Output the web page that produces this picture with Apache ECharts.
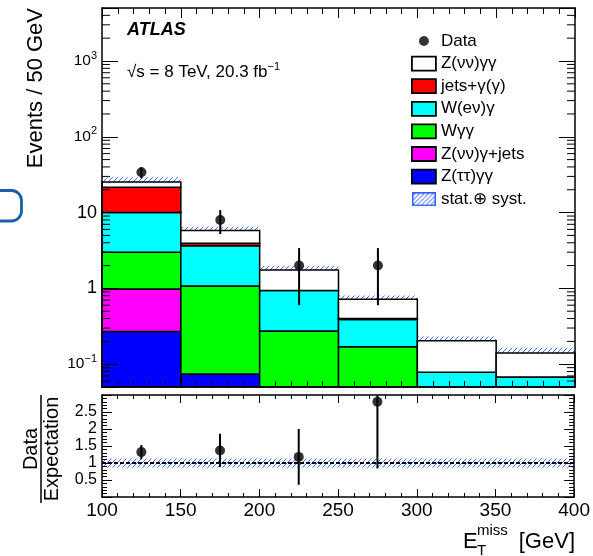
<!DOCTYPE html>
<html>
<head>
<meta charset="utf-8">
<script src="https://cdn.jsdelivr.net/npm/echarts@6/dist/echarts.min.js"></script>
<style>
  html, body { margin: 0; padding: 0; background: #fff; }
  #chart { width: 593px; height: 556px; }
</style>
</head>
<body>
<div id="chart"></div>
<script>
const FONT = '"Liberation Sans", Arial, Helvetica, sans-serif';

// E_T^miss binning (GeV)
const binEdges = [100, 150, 200, 250, 300, 350, 400];

// Expected events per bin, one array per background (bottom of the stack first)
const zTauTauGG   = [0.27, 0.074, 0,     0,    0,     0];
const zNuNuGJets  = [0.71, 0,     0,     0,    0,     0];
const wGG         = [2.02, 1.0,   0.275, 0.17, 0,     0];
const wEnuG       = [7.0,  2.57,  0.66,  0.22, 0.078, 0.068];
const jetsGamma   = [11.6, 0.3,   0,     0.01, 0,     0];
const zNuNuGG     = [3.8,  1.85,  0.815, 0.32, 0.125, 0.072];

// Relative stat.+syst. uncertainty on the total expectation
const bandRelErr = [0.15, 0.12, 0.13, 0.12, 0.14, 0.18];

// Observed data
const dataX   = [125, 175, 225, 275];
const dataY   = [34, 8, 2, 2];
const dataErr = [5.8, 2.8, 1.4, 1.4];

// Data / Expectation
const ratioY       = [1.32, 1.37, 1.18, 2.8];
const ratioErr     = [0.21, 0.49, 0.82, 1.96];
const ratioBandErr = 0.13;

// Axis ranges
const X_MIN = 100, X_MAX = 400;
const Y_MIN = 0.05, Y_MAX = 5000;
const R_MIN = 0, R_MAX = 3;

// Diagonal hatch used for the uncertainty bands
function hatchCanvas(size, color) {
  const c = document.createElement('canvas');
  c.width = size; c.height = size;
  const g = c.getContext('2d');
  g.strokeStyle = color; g.lineWidth = 1;
  g.beginPath();
  g.moveTo(0, size); g.lineTo(size, 0);
  g.moveTo(-2, 2); g.lineTo(2, -2);
  g.moveTo(size - 2, size + 2); g.lineTo(size + 2, size - 2);
  g.stroke();
  return c;
}
const HATCH_COLOR = '#3f6ef2';
const hatch = { image: hatchCanvas(5, HATCH_COLOR), repeat: 'repeat' };

function hatchLegendIcon() {
  const c = document.createElement('canvas');
  c.width = 48; c.height = 28;
  const g = c.getContext('2d');
  g.fillStyle = '#fff'; g.fillRect(0, 0, 48, 28);
  g.strokeStyle = HATCH_COLOR; g.lineWidth = 1.6;
  for (let k = -28; k < 48; k += 9) { g.beginPath(); g.moveTo(k, 28); g.lineTo(k + 28, 0); g.stroke(); }
  g.strokeStyle = '#2f5cff'; g.lineWidth = 3; g.strokeRect(1.5, 1.5, 45, 25);
  return 'image://' + c.toDataURL();
}
function dotLegendIcon() {
  const c = document.createElement('canvas');
  c.width = 48; c.height = 28;
  const g = c.getContext('2d');
  g.fillStyle = '#000'; g.beginPath(); g.arc(24, 14, 10, 0, Math.PI * 2); g.fill();
  return 'image://' + c.toDataURL();
}

// Stack the backgrounds bin by bin
const components = [
  { name: 'Z(ττ)γγ',      color: '#0000ff', values: zTauTauGG },
  { name: 'Z(νν)γ+jets',  color: '#ff00ff', values: zNuNuGJets },
  { name: 'Wγγ',          color: '#00ff00', values: wGG },
  { name: 'W(eν)γ',       color: '#00ffff', values: wEnuG },
  { name: 'jets+γ(γ)',    color: '#ff0000', values: jetsGamma },
  { name: 'Z(νν)γγ',      color: '#ffffff', values: zNuNuGG }
];

function rectItem(fill, stroke, lw, floor) {
  return function (params, api) {
    const x0 = api.value(0), lo = api.value(1), x1 = api.value(2), hi = api.value(3);
    if (!(hi > lo) || hi <= floor) return null;
    const a = api.coord([x0, hi]);
    const b = api.coord([x1, Math.max(lo, floor)]);
    return {
      type: 'rect',
      shape: { x: a[0], y: a[1], width: b[0] - a[0], height: b[1] - a[1] },
      style: { fill: fill, stroke: stroke, lineWidth: lw }
    };
  };
}

function errorBarItem(yMin, yMax) {
  return function (params, api) {
    const x = api.value(0), y = api.value(1), e = api.value(2);
    const a = api.coord([x, Math.min(y + e, yMax)]);
    const b = api.coord([x, Math.max(y - e, yMin)]);
    return { type: 'line', shape: { x1: a[0], y1: a[1], x2: b[0], y2: b[1] },
             style: { stroke: '#000', lineWidth: 2 } };
  };
}

const cumulative = binEdges.slice(0, -1).map(() => 0);
const stackSeries = components.map(c => {
  const data = c.values.map((v, i) => {
    const lo = cumulative[i];
    cumulative[i] += v;
    return [binEdges[i], lo, binEdges[i + 1], cumulative[i]];
  });
  return {
    type: 'custom', name: c.name, xAxisIndex: 0, yAxisIndex: 0, z: 3,
    itemStyle: { color: c.color },
    renderItem: rectItem(c.color, '#000', 1.5, Y_MIN),
    data: data
  };
});
const totals = cumulative.slice();

const bandData = totals.map((t, i) =>
  [binEdges[i], t * (1 - bandRelErr[i]), binEdges[i + 1], t * (1 + bandRelErr[i])]);

// Minor ticks of the logarithmic axis (2..9 x 10^n), drawn on both frame sides
const logMinorTicks = [];
for (let d = -2; d <= 3; d++) {
  for (let k = 2; k <= 9; k++) {
    const v = k * Math.pow(10, d);
    if (v > Y_MIN * 1.001 && v < Y_MAX * 0.999) logMinorTicks.push([X_MIN, v]);
  }
}

function logLabel(value) {
  const e = Math.round(Math.log10(value));
  if (Math.abs(Math.log10(value) - e) > 1e-6) return '';
  if (e === 0) return '{n|1}';
  if (e === 1) return '{n|10}';
  return '{b|10}{s|' + (e < 0 ? '\u2212' + (-e) : e) + '}';
}

const frameLine = { show: true, onZero: false, lineStyle: { color: '#000', width: 1.5 } };

function xAxisCfg(grid, pos, labels, major, minor) {
  return {
    type: 'value', gridIndex: grid, position: pos, min: X_MIN, max: X_MAX, interval: 50, z: 10,
    axisLine: frameLine,
    axisTick: { show: true, inside: true, length: major, lineStyle: { color: '#000', width: 1 } },
    minorTick: { show: true, splitNumber: 5, length: minor, lineStyle: { color: '#000', width: 1 } },
    splitLine: { show: false }, minorSplitLine: { show: false },
    axisLabel: labels ? { show: true, fontFamily: FONT, fontSize: 19, color: '#000', margin: 4 } : { show: false }
  };
}

function logAxisCfg(pos, labels) {
  return {
    type: 'log', logBase: 10, gridIndex: 0, position: pos, min: Y_MIN, max: Y_MAX, z: 10,
    axisLine: frameLine,
    axisTick: { show: true, inside: true, length: 16, lineStyle: { color: '#000', width: 1 } },
    minorTick: { show: false },
    splitLine: { show: false },
    axisLabel: labels ? {
      show: true, margin: 5, formatter: logLabel,
      rich: {
        n: { fontFamily: FONT, fontSize: 18, color: '#000', lineHeight: 22 },
        b: { fontFamily: FONT, fontSize: 15.5, color: '#000', lineHeight: 22 },
        s: { fontFamily: FONT, fontSize: 11, color: '#000', lineHeight: 12, verticalAlign: 'top' }
      }
    } : { show: false }
  };
}

function ratioAxisCfg(pos, labels) {
  return {
    type: 'value', gridIndex: 1, position: pos, min: R_MIN, max: R_MAX, interval: 0.5, z: 10,
    axisLine: frameLine,
    axisTick: { show: true, inside: true, length: 10, lineStyle: { color: '#000', width: 1 } },
    minorTick: { show: true, splitNumber: 5, length: 5, lineStyle: { color: '#000', width: 1 } },
    splitLine: { show: false }, minorSplitLine: { show: false },
    axisLabel: labels ? { show: true, showMinLabel: false, showMaxLabel: false,
      fontFamily: FONT, fontSize: 16, color: '#000', margin: 5 } : { show: false }
  };
}

const option = {
  animation: false,
  backgroundColor: '#fff',
  grid: [
    { left: 102, right: 18, top: 8, height: 379 },
    { left: 102, right: 18, top: 395, height: 102 }
  ],
  xAxis: [
    xAxisCfg(0, 'bottom', false, 10, 6),
    xAxisCfg(0, 'top', false, 10, 6),
    xAxisCfg(1, 'bottom', true, 8, 4),
    xAxisCfg(1, 'top', false, 8, 4)
  ],
  yAxis: [
    logAxisCfg('left', true),
    logAxisCfg('right', false),
    ratioAxisCfg('left', true),
    ratioAxisCfg('right', false)
  ],
  legend: {
    orient: 'vertical', left: 411, top: 32.5, padding: 0,
    itemWidth: 24, itemHeight: 14, itemGap: 5.6, selectedMode: false,
    textStyle: { fontFamily: FONT, fontSize: 17, color: '#000', lineHeight: 17 },
    data: [
      { name: 'Data', icon: dotLegendIcon() },
      { name: 'Z(νν)γγ',     icon: 'rect', itemStyle: { color: '#ffffff', borderColor: '#000', borderWidth: 1.8 } },
      { name: 'jets+γ(γ)',   icon: 'rect', itemStyle: { color: '#ff0000', borderColor: '#000', borderWidth: 1.8 } },
      { name: 'W(eν)γ',      icon: 'rect', itemStyle: { color: '#00ffff', borderColor: '#000', borderWidth: 1.8 } },
      { name: 'Wγγ',         icon: 'rect', itemStyle: { color: '#00ff00', borderColor: '#000', borderWidth: 1.8 } },
      { name: 'Z(νν)γ+jets', icon: 'rect', itemStyle: { color: '#ff00ff', borderColor: '#000', borderWidth: 1.8 } },
      { name: 'Z(ττ)γγ',     icon: 'rect', itemStyle: { color: '#0000ff', borderColor: '#000', borderWidth: 1.8 } },
      { name: 'stat.⊕ syst.', icon: hatchLegendIcon() }
    ]
  },
  graphic: [
    { type: 'text', x: 127, y: 30, style: { text: 'ATLAS', font: 'italic bold 18px ' + FONT,
      fill: '#000', textAlign: 'left', textVerticalAlign: 'middle' } },
    { type: 'text', x: 127, y: 72, style: {
      text: '{a|√s = 8 TeV, 20.3 fb}{s|\u22121}', textAlign: 'left', textVerticalAlign: 'middle',
      rich: {
        a: { fontFamily: FONT, fontSize: 17, fill: '#000', lineHeight: 22 },
        s: { fontFamily: FONT, fontSize: 11, fill: '#000', lineHeight: 12, verticalAlign: 'top' }
      } } },
    { type: 'text', x: 35.5, y: 8, rotation: Math.PI / 2, style: { text: 'Events / 50 GeV',
      font: '22px ' + FONT, fill: '#000', textAlign: 'right', textVerticalAlign: 'middle' } },
    { type: 'text', x: 31, y: 449, rotation: Math.PI / 2, style: { text: 'Data',
      font: '20px ' + FONT, fill: '#000', textAlign: 'center', textVerticalAlign: 'middle' } },
    { type: 'line', shape: { x1: 41, y1: 395, x2: 41, y2: 503 }, style: { stroke: '#000', lineWidth: 1.5 } },
    { type: 'text', x: 52, y: 449, rotation: Math.PI / 2, style: { text: 'Expectation',
      font: '20px ' + FONT, fill: '#000', textAlign: 'center', textVerticalAlign: 'middle' } },
    { type: 'text', x: 463, y: 541.5, style: { text: 'E', font: '22px ' + FONT, fill: '#000',
      textAlign: 'left', textVerticalAlign: 'middle' } },
    { type: 'text', x: 477, y: 531, style: { text: 'miss', font: '15px ' + FONT, fill: '#000',
      textAlign: 'left', textVerticalAlign: 'middle' } },
    { type: 'text', x: 477, y: 550.5, style: { text: 'T', font: '15px ' + FONT, fill: '#000',
      textAlign: 'left', textVerticalAlign: 'middle' } },
    { type: 'text', x: 575, y: 541.5, style: { text: '[GeV]', font: '22px ' + FONT, fill: '#000',
      textAlign: 'right', textVerticalAlign: 'middle' } },
    { type: 'rect', shape: { x: -12, y: 190.5, width: 33.5, height: 30.5, r: 10 },
      style: { stroke: '#1a5fae', lineWidth: 2.8, fill: 'none' } }
  ],
  series: [
    {
      type: 'custom', name: 'stat.⊕ syst.', xAxisIndex: 0, yAxisIndex: 0, z: 2,
      itemStyle: { color: HATCH_COLOR },
      renderItem: rectItem(hatch, null, 0, Y_MIN), data: bandData
    },
    ...stackSeries,
    {
      type: 'custom', name: 'logMinorTicks', xAxisIndex: 0, yAxisIndex: 0, z: 11, silent: true,
      data: logMinorTicks,
      renderItem: function (params, api) {
        const v = api.value(1);
        const l = api.coord([X_MIN, v]), r = api.coord([X_MAX, v]);
        return { type: 'group', children: [
          { type: 'line', shape: { x1: l[0], y1: l[1], x2: l[0] + 8, y2: l[1] }, style: { stroke: '#000', lineWidth: 1 } },
          { type: 'line', shape: { x1: r[0] - 8, y1: r[1], x2: r[0], y2: r[1] }, style: { stroke: '#000', lineWidth: 1 } }
        ] };
      }
    },
    {
      type: 'custom', name: 'dataErr', xAxisIndex: 0, yAxisIndex: 0, z: 6,
      renderItem: errorBarItem(Y_MIN, Y_MAX),
      data: dataX.map((x, i) => [x, dataY[i], dataErr[i]])
    },
    {
      type: 'scatter', name: 'Data', xAxisIndex: 0, yAxisIndex: 0, z: 7,
      symbol: 'circle', symbolSize: 10, itemStyle: { color: '#000' },
      data: dataX.map((x, i) => [x, dataY[i]])
    },
    {
      type: 'custom', name: 'ratioBand', xAxisIndex: 2, yAxisIndex: 2, z: 2,
      renderItem: rectItem(hatch, null, 0, R_MIN),
      data: [[X_MIN, 1 - ratioBandErr, X_MAX, 1 + ratioBandErr]]
    },
    {
      type: 'line', name: 'unity', xAxisIndex: 2, yAxisIndex: 2, z: 3, symbol: 'none',
      lineStyle: { color: '#000', width: 2, type: [4, 2] },
      data: [[X_MIN, 1], [X_MAX, 1]]
    },
    {
      type: 'custom', name: 'ratioErr', xAxisIndex: 2, yAxisIndex: 2, z: 6,
      renderItem: errorBarItem(R_MIN, R_MAX),
      data: dataX.map((x, i) => [x, ratioY[i], ratioErr[i]])
    },
    {
      type: 'scatter', name: 'ratio', xAxisIndex: 2, yAxisIndex: 2, z: 7,
      symbol: 'circle', symbolSize: 10, itemStyle: { color: '#000' },
      data: dataX.map((x, i) => [x, ratioY[i]])
    }
  ]
};

const chart = echarts.init(document.getElementById('chart'), null, { renderer: 'canvas' });
chart.setOption(option);
</script>
</body>
</html>
